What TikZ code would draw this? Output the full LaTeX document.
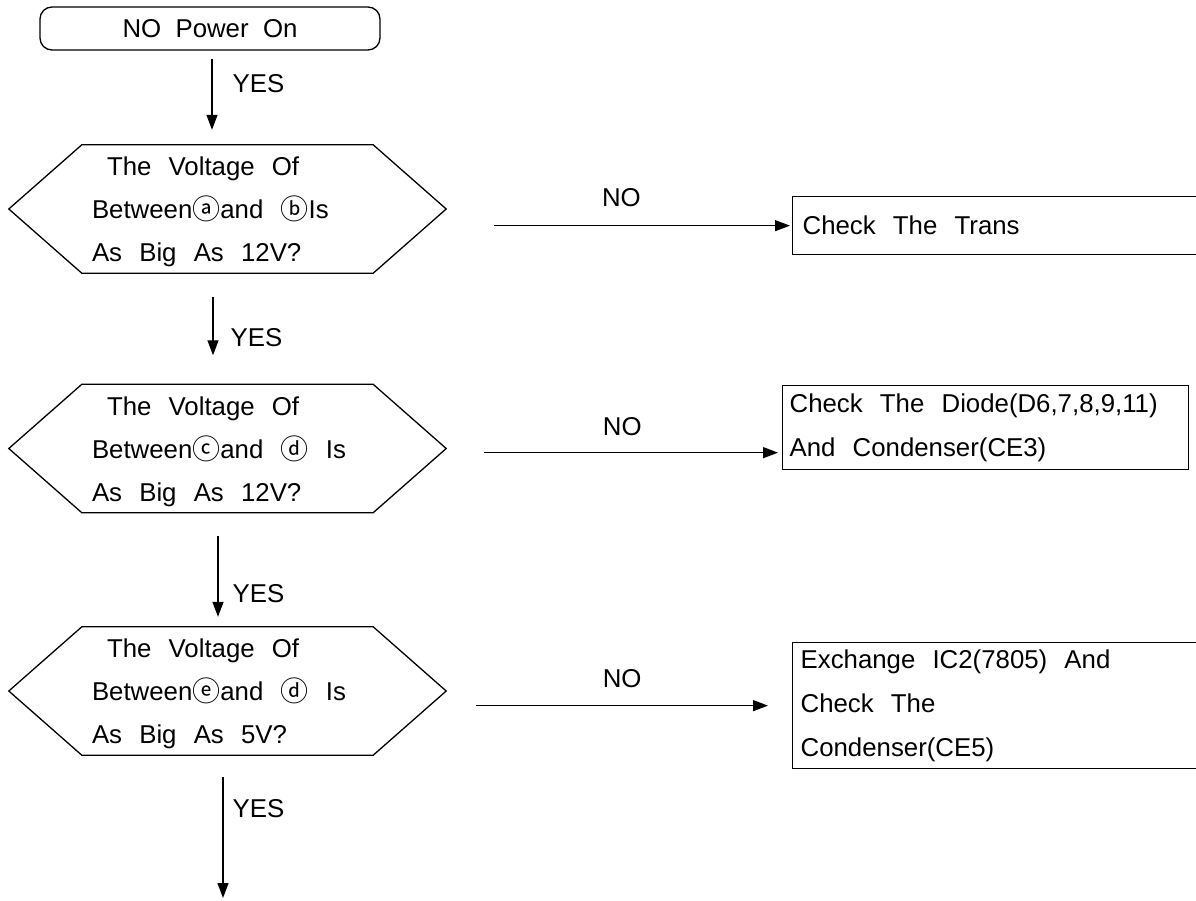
\documentclass[tikz,border=0pt]{standalone}
\usepackage{fontspec}
\setmainfont{Liberation Sans}
\newfontfamily\circfont{Noto Sans CJK SC}
\usetikzlibrary{arrows.meta,calc}
\newcommand\cletter[1]{{\circfont\fontsize{28}{28}\selectfont\raisebox{-1pt}{#1}}}
\begin{document}
\begin{tikzpicture}[x=1pt,y=-1pt,
  every node/.style={font=\fontsize{25.8}{43}\selectfont},
  outline/.style={line width=1.3pt,line join=miter},
  arr/.style={line width=1.3pt,-{Triangle[length=15pt,width=11pt]}},
  termbox/.style={draw,line width=1.3pt,rounded corners=12pt,minimum width=340pt,minimum height=43pt,inner sep=0pt},
  hexnode/.style={minimum width=437pt,minimum height=128pt,inner xsep=0pt,inner ysep=0pt,text width=271pt,align=left},
  actbox/.style={draw,line width=1.3pt,anchor=north west,align=left,inner ysep=0pt,font=\fontsize{25.8}{44}\selectfont},
  lbl/.style={inner sep=0pt}
]
\path[use as bounding box] (0,0) rectangle (1196,900);

\node[termbox] (term) at (210,28.5) {NO~~Power~~On};

\node[hexnode] (hex1) at (227.5,209) {\rule{0pt}{25pt}\hspace*{15pt}The~~Voltage~~Of\\Between\cletter{ⓐ}and~~\cletter{ⓑ}Is\\As~~Big~~As~~12V?};
\node[hexnode] (hex2) at (227.5,448.5) {\rule{0pt}{25pt}\hspace*{15pt}The~~Voltage~~Of\\Between\cletter{ⓒ}and~~\cletter{ⓓ}~~Is\\As~~Big~~As~~12V?};
\node[hexnode] (hex3) at (227.5,691) {\rule{0pt}{25pt}\hspace*{15pt}The~~Voltage~~Of\\Between\cletter{ⓔ}and~~\cletter{ⓓ}~~Is\\As~~Big~~As~~5V?};

\foreach \n in {hex1,hex2,hex3}{
  \draw[outline] (\n.west) -- ($(\n.north west)+(73,0)$) -- ($(\n.north east)+(-73,0)$)
    -- (\n.east) -- ($(\n.south east)+(-73,0)$) -- ($(\n.south west)+(73,0)$) -- cycle;
}

\node[actbox,text width=390pt,inner xsep=10pt,minimum height=58pt] (box1) at (792,196) {Check~~The~~Trans};
\node[actbox,text width=392pt,inner xsep=7pt,minimum height=84pt] (box2) at (782,385) {Check~~The~~Diode(D6,7,8,9,11)\\And~~Condenser(CE3)};
\node[actbox,text width=394pt,inner xsep=8pt,minimum height=126pt] (box3) at (792,642) {Exchange~~IC2(7805)~~And\\Check~~The\\Condenser(CE5)};

\coordinate (fin) at (223,898);

% YES connectors
\draw[arr] ($(term.south)+(2,8)$) -- node[lbl,pos=0.35,anchor=west,xshift=20pt]{YES} ($(hex1.north)+(-15.5,-15)$);
\draw[arr] ($(hex1.south)+(-14.5,24)$) -- node[lbl,pos=0.69,anchor=west,xshift=17pt]{YES} ($(hex2.north)+(-14.5,-29)$);
\draw[arr] ($(hex2.south)+(-9.5,23)$) -- node[lbl,pos=0.71,anchor=west,xshift=14pt]{YES} ($(hex3.north)+(-9.5,-10)$);
\draw[arr] ($(hex3.south)+(-4.5,22)$) -- node[lbl,pos=0.26,anchor=west,xshift=9pt]{YES} (fin);

% NO connectors
\coordinate (n1a) at ($(hex1.east)+(48,0)$);
\coordinate (n1b) at ($(box1.west)+(-2,0)$);
\coordinate (n2a) at ($(hex2.east)+(38,0)$);
\coordinate (n2b) at ($(box2.west)+(-4,25)$);
\coordinate (n3a) at ($(hex3.east)+(30,0)$);
\coordinate (n3b) at ($(box3.west)+(-24,0)$);
\draw[arr] (n1a |- n1b) -- node[lbl,pos=0.43,yshift=28pt]{NO} (n1b);
\draw[arr] (n2a |- n2b) -- node[lbl,pos=0.47,yshift=26pt]{NO} (n2b);
\draw[arr] (n3a |- n3b) -- node[lbl,pos=0.5,yshift=27pt]{NO} (n3b);
\end{tikzpicture}
\end{document}
